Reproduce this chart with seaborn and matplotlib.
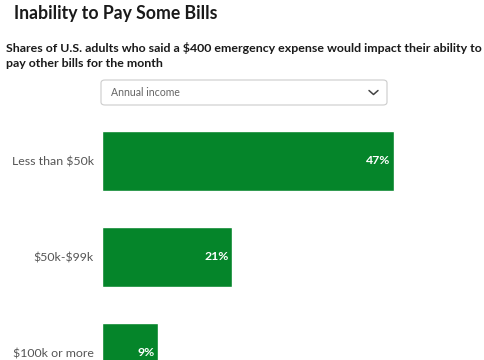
import matplotlib
matplotlib.use("Agg")
import matplotlib.pyplot as plt
from matplotlib.patches import FancyBboxPatch
import seaborn as sns
import pandas as pd

# data
categories = ["Less than $50k", "$50k-$99k", "$100k or more"]
shares = [47, 21, 9]

title = "Inability to Pay Some Bills"
subtitle = ("Shares of U.S. adults who said a $400 emergency expense would impact their ability to\n"
            "pay other bills for the month")
dropdown_label = "Annual income"

GREEN = "#05852a"
W, H = 485, 360

sns.set_theme(style="white")
plt.rcParams["font.family"] = ["Lato", "DejaVu Sans"]
plt.rcParams["text.parse_math"] = False  # dollar signs are literal

df = pd.DataFrame({"group": categories, "share": shares})

fig = plt.figure(figsize=(W / 100, H / 100), dpi=100)
# axes spans x 102..485 px, y 110..360 px
ax = fig.add_axes([102 / W, 0, 1 - 102 / W, 250 / H])
sns.barplot(data=df, y="group", x="share", order=categories, color=GREEN,
            width=0.625, saturation=1, ax=ax, orient="h")
ax.set_xlim(0, (W - 102) / 6.21)
ax.set_ylim(2.073, -0.531)
ax.set_xlabel("")
ax.set_ylabel("")
ax.set_xticks([])
for s in ax.spines.values():
    s.set_visible(False)
ax.tick_params(axis="y", length=0, pad=6)
for lbl in ax.get_yticklabels():
    lbl.set_fontsize(8.9)
    lbl.set_color("#555555")

for i, v in enumerate(shares):
    ax.text(v - 0.5, i, f"{v}%", ha="right", va="center", color="white",
            fontsize=8.8, fontweight="bold")

# header texts
fig.text(14 / W, 1 - 14 / H, title, ha="left", va="center", fontsize=12.7,
         fontweight="bold", color="#1a1a1a")
fig.text(6 / W, 1 - 55.5 / H, subtitle, ha="left", va="center", fontsize=8.9,
         fontweight="bold", color="#1a1a1a", linespacing=1.4)

# dropdown box
box = FancyBboxPatch((101 / W, 1 - 105 / H), 286 / W, 25 / H,
                     boxstyle="round,pad=0,rounding_size=0.008",
                     transform=fig.transFigure, facecolor="white",
                     edgecolor="#cccccc", linewidth=0.8)
fig.patches.append(box)
fig.text(111 / W, 1 - 92.5 / H, dropdown_label, ha="left", va="center",
         fontsize=7.6, color="#666666")
fig.lines.append(plt.Line2D([369 / W, 373.5 / W, 378 / W],
                            [1 - 90.5 / H, 1 - 94.5 / H, 1 - 90.5 / H],
                            transform=fig.transFigure, color="#444444",
                            linewidth=1.1))

fig.savefig("out.png", dpi=100)
